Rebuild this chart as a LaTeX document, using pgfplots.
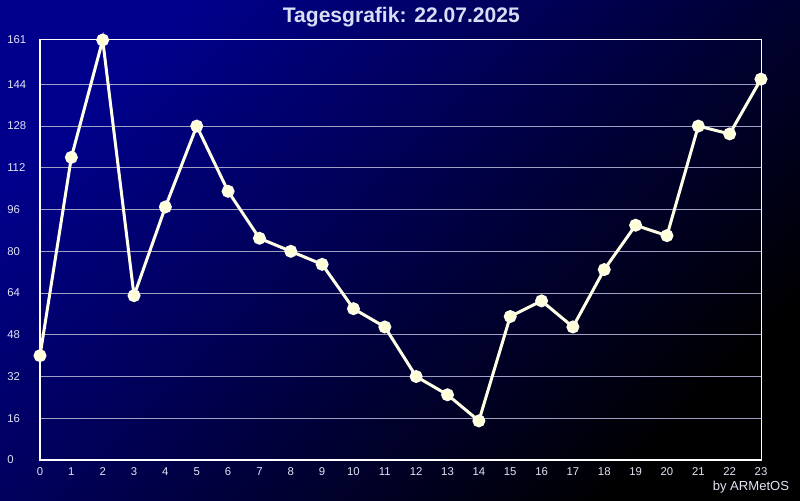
\documentclass[border=0pt]{standalone}
\usepackage{fontspec}
\setmainfont{Liberation Sans}
\usepackage{pgfplots}
\pgfplotsset{compat=1.18}
\usepackage{xcolor}
\definecolor{bgtop}{RGB}{0,0,140}
\definecolor{bgbot}{RGB}{0,0,0}
\definecolor{gridc}{RGB}{160,160,195}
\definecolor{linec}{RGB}{255,255,232}
\definecolor{markc}{RGB}{255,255,210}
\definecolor{titlec}{RGB}{215,222,245}
\definecolor{labc}{RGB}{225,228,245}

\begin{document}
\begin{tikzpicture}
% background, 800x500 px at 0.75pt per px
\shade[top color=bgtop, bottom color=bgbot, shading angle=45]
  (0pt,0pt) rectangle (600pt,375pt);
\node[font=\fontsize{15.8}{18}\selectfont\bfseries, text=titlec]
  at (301pt,362pt) {Tagesgrafik: 22.07.2025};
\node[font=\fontsize{9.8}{12}\selectfont, text=labc, anchor=east, inner sep=0pt]
  at (592pt,9.5pt) {by ARMetOS};
\begin{axis}[
  at={(30pt,30pt)}, anchor=south west,
  scale only axis,
  width=540.75pt, height=315pt,
  xmin=0, xmax=23,
  ymin=0, ymax=161,
  xtick={0,...,23},
  ytick={0,16,32,48,64,80,96,112,128,144,161},
  major tick length=0pt,
  axis line style={white, line width=0.75pt},
  ymajorgrids=true,
  grid style={gridc, line width=0.75pt},
  clip=false,
  tick label style={font=\fontsize{8.5}{10}\selectfont, text=labc},
  /pgf/number format/assume math mode=true,
  xticklabel style={inner sep=0pt, anchor=north, yshift=-5.25pt},
  yticklabel style={inner sep=0pt, anchor=west, xshift=-24.75pt},
]
\addplot[linec, line width=2.25pt, mark=*, mark size=3.7pt,
  mark options={solid, fill=markc, draw=none}]
  coordinates {
    (0,40) (1,116) (2,161) (3,63) (4,97) (5,128) (6,103) (7,85)
    (8,80) (9,75) (10,58) (11,51) (12,32) (13,25) (14,15) (15,55)
    (16,61) (17,51) (18,73) (19,90) (20,86) (21,128) (22,125) (23,146)
  };
\end{axis}
\end{tikzpicture}
\end{document}
